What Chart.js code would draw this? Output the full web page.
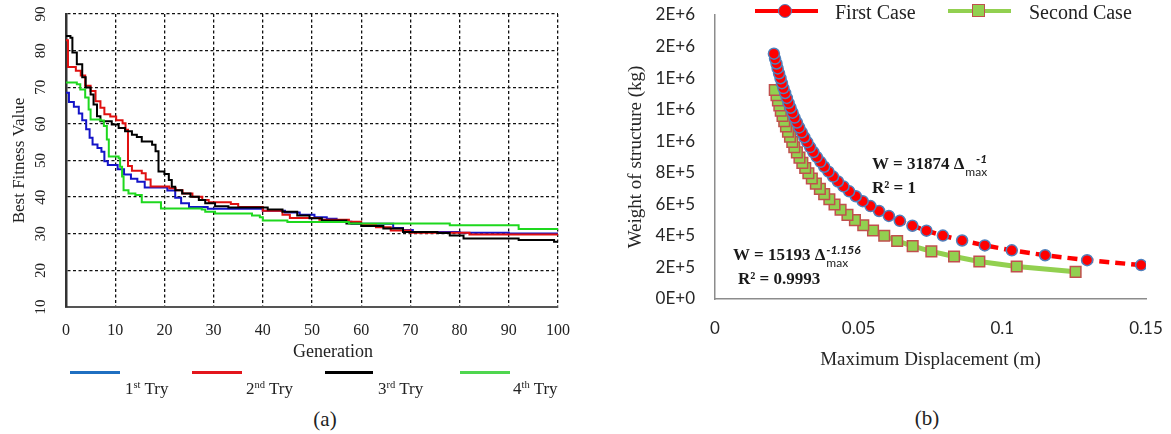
<!DOCTYPE html>
<html>
<head>
<meta charset="utf-8">
<title>GA convergence and weight vs displacement</title>
<script src="https://cdn.jsdelivr.net/npm/chart.js@4.4.1/dist/chart.umd.min.js"></script>
<style>
  body { margin: 0; background: #fff; }
  #wrap { position: relative; width: 1171px; height: 434px; overflow: hidden; background: #fff;
          font-family: 'Liberation Serif', 'Times New Roman', serif; color: #222; }
  canvas { position: absolute; top: 0; }
  #chart-fitness { left: 0; }
  #chart-weight { left: 600px; }
  .txt { position: absolute; white-space: nowrap; line-height: 1; }
  .center { transform: translate(-50%, -50%); }
  .mid { transform: translateY(-50%); }
  .key { position: absolute; }
  sup { font-size: 0.62em; vertical-align: 0.55em; line-height: 0; }
  .eq { font-weight: bold; font-size: 17px; color: #1a1a1a; }
  .stack { display: inline-block; vertical-align: middle; line-height: 1; font-family: Lato, sans-serif; margin-left: 1px; }
  .stack span { display: block; }
  .stack .sp { font-style: italic; font-size: 12px; font-weight: bold; }
  .stack .sb { font-size: 12px; font-weight: normal; margin-top: 1px; }
</style>
</head>
<body>
<div id="wrap">
  <canvas id="chart-fitness" width="590" height="365"></canvas>
  <canvas id="chart-weight" width="571" height="375"></canvas>

  <!-- (a) axis title and legend -->
  <div class="txt center" style="left:333px; top:351px; font-size:18px;">Generation</div>
  <div class="key" style="left:70px; top:371px; width:50px; height:3px; background:#1f6fc1;"></div>
  <div class="txt mid" style="left:125px; top:388px; font-size:17px;">1<sup>st</sup> Try</div>
  <div class="key" style="left:192px; top:371px; width:50px; height:3px; background:#e3161c;"></div>
  <div class="txt mid" style="left:246px; top:388px; font-size:17px;">2<sup>nd</sup> Try</div>
  <div class="key" style="left:325px; top:371px; width:48px; height:3px; background:#000;"></div>
  <div class="txt mid" style="left:378px; top:388px; font-size:17px;">3<sup>rd</sup> Try</div>
  <div class="key" style="left:460px; top:371px; width:50px; height:3px; background:#4fd64f;"></div>
  <div class="txt mid" style="left:513px; top:388px; font-size:17px;">4<sup>th</sup> Try</div>
  <div class="txt center" style="left:325px; top:419px; font-size:21px;">(a)</div>

  <!-- (b) legend and fitted equations -->
  <div class="key" style="left:755px; top:9px; width:63px; height:4px; background:#ff0000;"></div>
  <div class="key" style="left:778px; top:4px; width:14px; height:14px; box-sizing:border-box; border-radius:50%; background:#ff0000; border:1.5px solid #4f81bd;"></div>
  <div class="txt mid" style="left:835px; top:12px; font-size:20px;">First Case</div>
  <div class="key" style="left:948px; top:9px; width:63px; height:4px; background:#92d050;"></div>
  <div class="key" style="left:972px; top:4px; width:13px; height:13px; box-sizing:border-box; background:#92d050; border:1.5px solid #c0504d;"></div>
  <div class="txt mid" style="left:1029px; top:12px; font-size:20px;">Second Case</div>

  <div class="txt mid eq" style="left:872px; top:165px;">W = 31874 &Delta;<span class="stack" style="text-align:right;"><span class="sp">-1</span><span class="sb">max</span></span></div>
  <div class="txt mid eq" style="left:872px; top:187px;">R&sup2; = 1</div>
  <div class="txt mid eq" style="left:733px; top:256px;">W = 15193 &Delta;<span class="stack"><span class="sp">-1.156</span><span class="sb">max</span></span></div>
  <div class="txt mid eq" style="left:738px; top:278px;">R&sup2; = 0.9993</div>
  <div class="txt center" style="left:927px; top:418px; font-size:21px;">(b)</div>
</div>

<script>
// ==================== (a) Best fitness per generation ====================
const tryLabels = ['1st Try', '2nd Try', '3rd Try', '4th Try'];
const tryColors = ['#1414c8', '#e01010', '#000000', '#1ed81e'];

const gen1st = [0, 0.6, 1.6, 2.6, 3.3, 4.1, 4.8, 5.4, 6.4, 7.2, 7.8, 8.5, 10.5, 11.8, 13.2, 14.5, 16, 20.6, 22.2, 23.4, 25, 28.8, 40, 44.5, 47.5, 50.5, 53, 55, 58, 66.5, 68.5, 70.5, 80, 90, 100];
const fit1st = [68.5, 66, 64.7, 62.8, 61, 58.5, 56.2, 54.4, 53.4, 52.4, 49.8, 48.8, 47.6, 46.2, 45, 44.2, 42.6, 41.8, 39.8, 38.3, 37.3, 36.8, 36.3, 35.8, 35.2, 34.5, 34.1, 33.3, 32.7, 31.6, 31.0, 30.5, 30.3, 30.1, 30.1];

const gen2nd = [0, 0.4, 2, 3, 3.9, 5, 6, 7, 7.8, 9, 10.2, 11.5, 12.1, 12.6, 13.4, 15.4, 16.2, 17.2, 21, 22.3, 23.7, 25.7, 27.7, 29, 33.5, 35, 40, 44, 45.5, 51.5, 57.5, 60, 63, 66, 70, 82, 100];
const fit2nd = [82.8, 75.5, 74.5, 73.2, 70.4, 69, 66.2, 64.4, 62.6, 62, 61, 60.2, 58.4, 48.5, 47.2, 46.5, 44.8, 42.9, 42.4, 41.9, 41, 40.1, 39.2, 38.6, 38.1, 37.3, 36.3, 35.2, 34.3, 33.8, 33.3, 32.6, 31.8, 30.9, 30.3, 29.8, 29.6];

const gen3rd = [0, 0.9, 1.3, 2.2, 3.3, 4, 5, 5.6, 6.3, 7, 9.3, 10.7, 12, 13.4, 14.4, 15.4, 17.5, 18.2, 18.8, 20, 20.9, 21.5, 22.2, 23.6, 25.3, 27, 28.3, 30.3, 33, 41, 44, 47, 49.5, 52, 57, 60, 64.5, 68.5, 75.5, 78, 80.8, 92, 99.2, 100];
const fit3rd = [84, 83.5, 79.5, 76.3, 72.7, 69.9, 68, 65.3, 62.1, 60.7, 59.8, 58.9, 58, 57, 56.4, 55.2, 54.3, 52.5, 47, 46.3, 44.7, 42.8, 41.9, 41, 40.1, 39.2, 38.3, 37.5, 37.2, 36.6, 36, 35, 34.2, 33.6, 32.8, 32.1, 31.4, 30.5, 30.2, 29.5, 28.7, 28.3, 27.8, 27.8];

const gen4th = [0, 2.2, 2.9, 3.9, 4.6, 5, 7, 7.7, 8.3, 8.7, 10.7, 11, 11.4, 11.7, 12.7, 14.1, 15.4, 19.3, 27.6, 28.3, 30.3, 37.8, 39.4, 40, 45, 57.5, 78, 92, 100];
const fit4th = [71.3, 70.8, 69.4, 67.2, 63.9, 61.2, 60.9, 59.4, 55.7, 51.1, 50.6, 48.3, 45.6, 41.9, 41, 40.6, 38.6, 36.9, 36.6, 36, 35.5, 35, 34.5, 33.6, 33.2, 32.8, 32.3, 31.3, 31.2];

const genTicks = { min: 0, max: 100, step: 10 };
const fitTicks = { min: 10, max: 90, step: 10 };

// ==================== (b) Weight vs. maximum displacement ====================
const dispFirst = [0.1483, 0.1295, 0.1149, 0.1033, 0.0939, 0.0860, 0.0793, 0.0736, 0.0687, 0.0643, 0.0605, 0.0571, 0.0541, 0.0514, 0.0490, 0.0467, 0.0447, 0.0428, 0.0411, 0.0395, 0.0380, 0.0367, 0.0354, 0.0342, 0.0331, 0.0321, 0.0311, 0.0302, 0.0293, 0.0285, 0.0277, 0.0270, 0.0263, 0.0256, 0.0250, 0.0244, 0.0238, 0.0233, 0.0228, 0.0223, 0.0218, 0.0214, 0.0209, 0.0205];
const weightFirst = [215000, 246200, 277300, 308500, 339600, 370800, 402000, 433100, 464300, 495400, 526600, 557800, 588900, 620100, 651200, 682400, 713600, 744700, 775900, 807000, 838200, 869400, 900500, 931700, 962800, 994000, 1025200, 1056300, 1087500, 1118600, 1149800, 1181000, 1212100, 1243300, 1274400, 1305600, 1336800, 1367900, 1399100, 1430200, 1461400, 1492600, 1523700, 1554900];

const dispSecond = [0.1255, 0.1050, 0.0920, 0.0832, 0.0753, 0.0688, 0.0634, 0.0589, 0.0550, 0.0516, 0.0487, 0.0461, 0.0437, 0.0416, 0.0398, 0.0380, 0.0365, 0.0351, 0.0337, 0.0325, 0.0314, 0.0304, 0.0294, 0.0285, 0.0276, 0.0269, 0.0261, 0.0254, 0.0247, 0.0241, 0.0235, 0.0229, 0.0224, 0.0219, 0.0214, 0.0208];
const weightSecond = [172000, 206000, 238000, 269000, 302000, 335000, 368000, 401000, 434000, 467000, 500000, 533000, 566000, 599000, 632000, 665000, 698000, 731000, 764000, 797000, 830000, 863000, 896000, 929000, 962000, 995000, 1028000, 1061000, 1094000, 1127000, 1160000, 1193000, 1226000, 1259000, 1292000, 1325000];

const dispTicks = { min: 0, max: 0.15, step: 0.05 };
const weightTicks = { min: 0, max: 1800000, step: 200000 };

// ==================== helpers ====================
const SERIF = "'Liberation Serif', 'Times New Roman', serif";
const SANS = "Lato, 'Liberation Sans', sans-serif";

const toPoints = (xs, ys) => xs.map((x, i) => ({ x: x, y: ys[i] }));
const fixWidth = w => scale => { scale.width = w; };
const fixHeight = h => scale => { scale.height = h; };

// label gap is made with an invisible tick mark (ticks.padding would also pad the chart area)
const gapGrid = (len, extra) => Object.assign({ drawTicks: true, tickLength: len, tickColor: 'transparent' }, extra);

// ==================== draw (a) ====================
const tryGens = [gen1st, gen2nd, gen3rd, gen4th];
const tryFits = [fit1st, fit2nd, fit3rd, fit4th];

new Chart(document.getElementById('chart-fitness'), {
  type: 'line',
  data: {
    datasets: tryLabels.map((label, i) => ({
      label: label,
      data: toPoints(tryGens[i], tryFits[i]),
      borderColor: tryColors[i],
      borderWidth: 2,
      stepped: 'before',
      pointRadius: 0,
      fill: false,
      order: 3 - i
    }))
  },
  options: {
    responsive: false,
    animation: false,
    devicePixelRatio: 1,
    layout: { padding: { left: 0, right: 32, top: 14, bottom: 0 } },
    plugins: { legend: { display: false }, tooltip: { enabled: false } },
    scales: {
      x: {
        type: 'linear',
        min: genTicks.min,
        max: genTicks.max,
        ticks: { stepSize: genTicks.step, padding: 0, maxRotation: 0, color: '#222', font: { family: SERIF, size: 16 } },
        grid: gapGrid(14, { color: '#111', lineWidth: 1.3 }),
        border: { color: '#555', width: 2, dash: [3, 2.5] },
        afterFit: fixHeight(58)
      },
      y: {
        type: 'linear',
        min: fitTicks.min,
        max: fitTicks.max,
        ticks: { stepSize: fitTicks.step, padding: 0, minRotation: 90, maxRotation: 90, crossAlign: 'center', color: '#222', font: { family: SERIF, size: 15 } },
        grid: gapGrid(17, { color: '#111', lineWidth: 1.3 }),
        border: { color: '#333', width: 2.5, dash: [3, 2.5] },
        title: { display: true, text: 'Best Fitness Value', color: '#222', font: { family: SERIF, size: 17 }, padding: { top: 9, bottom: 0 } },
        afterFit: fixWidth(66)
      }
    }
  }
});

// ==================== draw (b) ====================
new Chart(document.getElementById('chart-weight'), {
  type: 'scatter',
  data: {
    datasets: [
      {
        label: 'First Case',
        data: toPoints(dispFirst, weightFirst),
        showLine: true,
        borderColor: '#ff0000',
        borderWidth: 4.5,
        borderDash: [10, 6],
        pointStyle: 'circle',
        pointRadius: 5.5,
        pointBackgroundColor: '#ff0000',
        pointBorderColor: '#4f81bd',
        pointBorderWidth: 1.5
      },
      {
        label: 'Second Case',
        data: toPoints(dispSecond, weightSecond),
        showLine: true,
        borderColor: '#92d050',
        borderWidth: 5,
        pointStyle: 'rect',
        pointRadius: 7.5,
        pointBackgroundColor: '#92d050',
        pointBorderColor: '#c0504d',
        pointBorderWidth: 1.5
      }
    ]
  },
  options: {
    responsive: false,
    animation: false,
    devicePixelRatio: 1,
    layout: { padding: { left: 0, right: 25, top: 15, bottom: 0 } },
    plugins: { legend: { display: false }, tooltip: { enabled: false } },
    scales: {
      x: {
        type: 'linear',
        min: dispTicks.min,
        max: dispTicks.max,
        ticks: {
          stepSize: dispTicks.step, padding: 0, maxRotation: 0, color: '#262626', font: { family: SANS, size: 17 },
          callback: v => String(+v.toFixed(2))
        },
        grid: gapGrid(19, { drawOnChartArea: false }),
        border: { color: '#8c8c8c', width: 1.5 },
        title: { display: true, text: 'Maximum Displacement (m)', color: '#262626', font: { family: SERIF, size: 19 }, padding: { top: 0, bottom: 4 } },
        afterFit: fixHeight(76)
      },
      y: {
        type: 'linear',
        min: weightTicks.min,
        max: weightTicks.max,
        ticks: {
          stepSize: weightTicks.step, padding: 0, color: '#262626', font: { family: SANS, size: 17 },
          callback: v => v.toExponential(0).toUpperCase()
        },
        grid: gapGrid(20, { drawOnChartArea: false }),
        border: { color: '#8c8c8c', width: 1.5 },
        title: { display: true, text: 'Weight of structure (kg)', color: '#262626', font: { family: SERIF, size: 19 }, padding: { top: 25, bottom: 0 } },
        afterFit: fixWidth(115)
      }
    }
  }
});
</script>
</body>
</html>
